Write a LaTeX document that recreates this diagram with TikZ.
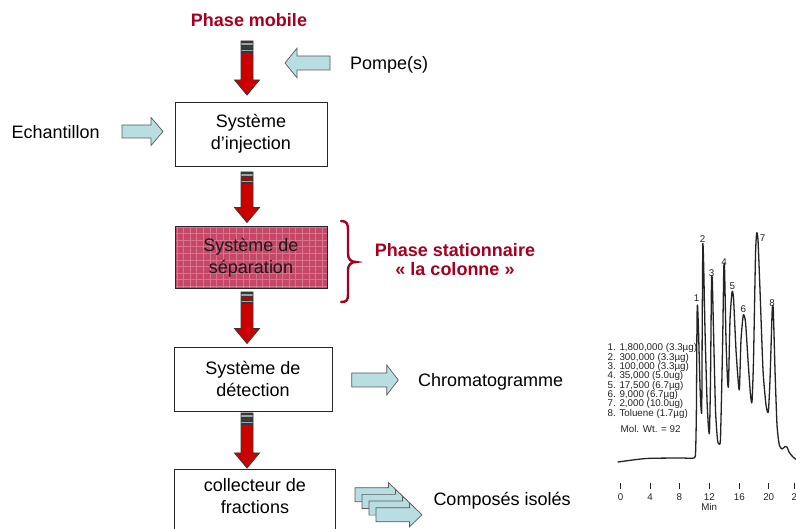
\documentclass[tikz,border=0pt]{standalone}
\usepackage{fontspec}
\setmainfont{Liberation Sans}
\usetikzlibrary{calc}

\definecolor{darkred}{RGB}{165,0,33}
\definecolor{arrowred}{RGB}{204,0,0}
\definecolor{arrowedge}{RGB}{55,55,55}
\definecolor{stripelight}{RGB}{150,168,168}
\definecolor{cyanfill}{RGB}{185,222,226}
\definecolor{sepfill}{RGB}{198,72,104}
\definecolor{sepgrid}{RGB}{218,116,142}
\definecolor{inkgray}{RGB}{35,35,35}

% vertical red block arrow with a striped tail: #1 tail, #2 tip
\newcommand\redarrow[2]{%
  \fill[arrowred] let \p1=(#1),\p2=(#2) in
    (\x1-6pt,\y1) -- (\x1+6pt,\y1) -- (\x1+6pt,\y2+15pt) -- (\x1+12.5pt,\y2+15pt)
    -- (\x1,\y2) -- (\x1-12.5pt,\y2+15pt) -- (\x1-6pt,\y2+15pt) -- cycle;
  \foreach \ya/\yb/\col in {0/2/arrowedge,2/4/stripelight,4/6/arrowedge,6/7.5/arrowred,
                            7.5/9/arrowedge,9/10.5/stripelight,10.5/12/arrowedge}{
    \fill[\col] let \p1=(#1) in (\x1-6pt,\y1-\ya*1pt) rectangle (\x1+6pt,\y1-\yb*1pt);}
  \draw[arrowedge,line width=0.8pt,line join=miter] let \p1=(#1),\p2=(#2) in
    (\x1-6pt,\y1) -- (\x1+6pt,\y1) -- (\x1+6pt,\y2+15pt) -- (\x1+12.5pt,\y2+15pt)
    -- (\x1,\y2) -- (\x1-12.5pt,\y2+15pt) -- (\x1-6pt,\y2+15pt) -- cycle;
}

% horizontal hollow block arrow: #1 style, #2 tail, #3 tip, #4 shaft half height,
% #5 head half height, #6 head length
\newcommand\flatarrow[6]{%
  \draw[#1] let \p1=(#2),\p2=(#3),\n1={ifthenelse(\x2>\x1,1,-1)} in
    (\x1,\y1+#4) -- ({\x2-\n1*#6},\y1+#4) -- ({\x2-\n1*#6},\y1+#5) -- (\x2,\y1)
    -- ({\x2-\n1*#6},\y1-#5) -- ({\x2-\n1*#6},\y1-#4) -- (\x1,\y1-#4) -- cycle;
}

\begin{document}
\begin{tikzpicture}[x=1pt,y=-1pt,
  txt/.style={font=\fontsize{18}{22}\selectfont, inner sep=0pt, text=black},
  redtxt/.style={font=\fontsize{18}{19.5}\selectfont\bfseries, inner sep=0pt, text=darkred},
  box/.style={txt, draw=black!85, line width=0.8pt, align=center,
              minimum width=152pt, minimum height=64pt},
  small/.style={font=\fontsize{9.8}{9.35}\selectfont, inner sep=0pt, text=inkgray},
  trace/.style={line width=1.3pt, draw=inkgray, line join=round, line cap=round},
  tick/.style={line width=0.9pt, draw=inkgray},
  hollow/.style={fill=cyanfill, draw=black!65, line width=0.7pt, line join=miter},
  brace/.style={draw=darkred, line width=2.4pt, line cap=round}
]
\useasboundingbox (0,0) rectangle (796,529);
\clip (0,0) rectangle (796,529);
\fill[white] (0,0) rectangle (796,529);

% ---------- flow chart ----------
\node[redtxt, anchor=base] (title) at (249,27) {Phase mobile};
\node[txt, anchor=base west] (pompe) at (350,69.5) {Pompe(s)};
\node[box] (inj) at (251,134) {Système\\d’injection};
\node[txt, anchor=base west] (ech) at (11.5,139) {Echantillon};
\node[box, fill=sepfill, minimum height=62pt, text=black!90,
      path picture={\draw[sepgrid, line width=0.9pt, step=6.6pt]
        (path picture bounding box.south west) grid (path picture bounding box.north east);}]
      (sep) at (251,257.5) {Système de\\séparation};
\node[redtxt, align=center] (stat) at (455,259.5) {Phase stationnaire\\«~la colonne~»};
\node[box, minimum width=158pt] (det) at (253,379) {Système de\\détection};
\node[txt, anchor=base west] (chrom) at (418,386.5) {Chromatogramme};
\node[txt, align=center, minimum width=160pt, minimum height=52pt] (col) at (255,496)
      {collecteur de\\fractions};
\draw[black!85, line width=0.8pt]
  ([yshift=-20pt]col.south west) -- (col.north west) -- (col.north east) -- ([yshift=-20pt]col.south east);
\node[txt, anchor=base west] (comp) at (433.3,506) {Composés isolés};

% red arrows along the flow
\coordinate (m1s) at (247,41);   \coordinate (m1e) at (247,95);
\coordinate (m2s) at (247,172);  \coordinate (m2e) at (247,222.5);
\coordinate (m3s) at (247,292);  \coordinate (m3e) at (247,343.5);
\coordinate (m4s) at (247,413);  \coordinate (m4e) at (247,468);
\redarrow{m1s}{m1e}
\redarrow{m2s}{m2e}
\redarrow{m3s}{m3e}
\redarrow{m4s}{m4e}

% light block arrows
\coordinate (ps) at (330,63);     \coordinate (pe) at (285,63);
\coordinate (es) at (122,131.5);  \coordinate (ee) at (163,131.5);
\coordinate (cs) at (351.7,380);  \coordinate (ce) at (398.3,380);
\flatarrow{hollow}{ps}{pe}{7pt}{14.8pt}{12pt}
\flatarrow{hollow}{es}{ee}{6.5pt}{14pt}{12pt}
\flatarrow{hollow}{cs}{ce}{7pt}{15pt}{11.6pt}
\foreach \k in {0,1,2,3}{
  \coordinate (fs\k) at (355+7*\k,494.7+6.7*\k);
  \coordinate (fe\k) at (401+7*\k,494.7+6.7*\k);
  \flatarrow{hollow}{fs\k}{fe\k}{7pt}{12pt}{12.5pt}
}

% brace beside the column
\draw[brace] (341,221) .. controls (347,221) and (348,224) .. (348,230) -- (348,254)
  .. controls (348,259) and (351,262) .. (356,262)
  .. controls (351,262) and (348,265) .. (348,270) -- (348,294)
  .. controls (348,300) and (347,302) .. (341,302);

% ---------- chromatogram ----------
\draw[trace] plot[smooth, tension=0.35] coordinates {
  (618,462) (646,458.5) (680,458) (694,458) (695.6,452) (696.4,410) (697,320) (697.5,305)
  (698.5,330) (700.3,395) (701.7,412)
  (702.2,330) (702.8,245) (703.6,262) (705,330) (707,400) (708.5,428) (709.5,432)
  (710.5,380) (711.5,282) (712.3,280) (713.5,330) (715.5,410) (717.5,440) (719,444) (720.5,438)
  (722.5,350) (723.8,268) (724.6,270) (726,340) (727.5,380) (728.5,385)
  (730,320) (732,292) (733.5,298) (736,350) (738.5,385) (739.5,388)
  (741,340) (743.3,315) (745.5,322) (748,360) (750.5,395) (752,402)
  (753.5,360) (755.5,255) (756.7,233) (758,240) (760,290) (763,370) (766,405) (768.3,412)
  (770,380) (772.2,310) (773.3,310) (775,370) (777,425) (779.3,445) (782,449)
  (785,446.5) (787,447) (789,452) (793,457) (797,460)};

\node[small] (p1) at (696.7,298.3) {1};
\node[small] (p2) at (702.7,239.3) {2};
\node[small] (p3) at (711.7,273.3) {3};
\node[small] (p4) at (724,261.7) {4};
\node[small] (p5) at (732.3,285.7) {5};
\node[small] (p6) at (743.3,309.3) {6};
\node[small] (p7) at (762.7,238.3) {7};
\node[small] (p8) at (772,303.3) {8};

\node[small, anchor=west, align=left] (legend) at (607.5,381) {%
  1. 1,800,000 (3.3µg)\\2. 300,000 (3.3µg)\\3. 100,000 (3.3µg)\\4. 35,000 (5.0ug)\\%
  5. 17,500 (6.7µg)\\6. 9,000 (6.7µg)\\7. 2,000 (10.0ug)\\8. Toluene (1.7µg)};
\node[small, anchor=west] (molwt) at (620.5,429.3) {Mol. Wt. = 92};

\foreach \t/\lab [count=\i] in {620.7/0,650/4,679.3/8,709.3/12,739.3/16,768.7/20}{
  \draw[tick] (\t,483) -- (\t,489);
  \node[small] (ax\i) at (\t,497) {\lab};
}
\draw[tick] (794,483) -- (794,489);
\node[small, anchor=west] (ax7) at (791.3,497) {2};
\node[small] (minlab) at (709.3,506.5) {Min};
\end{tikzpicture}
\end{document}
